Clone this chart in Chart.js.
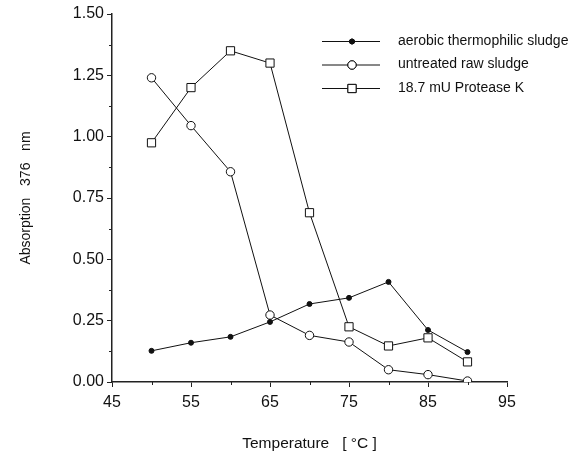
<!DOCTYPE html>
<html>
<head>
<meta charset="UTF-8">
<script src="https://cdn.jsdelivr.net/npm/chart.js"></script>
<style>
  body { margin: 0; background: #fff; }
  #wrap { width: 575px; height: 457px; }
</style>
</head>
<body>
<div id="wrap"><canvas id="chart" width="575" height="457"></canvas></div>
<script>
// temperatures (°C)
const temps = [50, 55, 60, 65, 70, 75, 80, 85, 90];

// absorption at 376 nm
const aerobic = [0.127, 0.16, 0.184, 0.245, 0.318, 0.343, 0.408, 0.212, 0.122];
const untreated = [1.24, 1.045, 0.857, 0.273, 0.19, 0.163, 0.05, 0.03, 0.004];
const protease = [0.975, 1.20, 1.35, 1.30, 0.69, 0.225, 0.147, 0.18, 0.082];

const seriesNames = ['aerobic thermophilic sludge', 'untreated raw sludge', '18.7 mU Protease K'];

const xTicks = [45, 55, 65, 75, 85, 95];
const yTicks = [0, 0.25, 0.5, 0.75, 1.0, 1.25, 1.5];

const FONT = "'Liberation Sans', Arial, sans-serif";

function pts(ys) {
    return temps.map((t, i) => ({ x: t, y: ys[i] }));
}

// short minor ticks between the labelled ones
const minorTicks = {
    id: 'minorTicks',
    afterDraw(chart) {
        const ctx = chart.ctx;
        const xs = chart.scales.x, ys = chart.scales.y;
        const area = chart.chartArea;
        ctx.save();
        ctx.strokeStyle = '#222';
        ctx.lineWidth = 1;
        ctx.beginPath();
        for (let v = 50; v < 95; v += 10) {
            const px = Math.round(xs.getPixelForValue(v)) + 0.5;
            ctx.moveTo(px, area.bottom);
            ctx.lineTo(px, area.bottom + 3);
        }
        for (let v = 0.125; v < 1.5; v += 0.25) {
            const py = Math.round(ys.getPixelForValue(v)) + 0.5;
            ctx.moveTo(area.left - 3, py);
            ctx.lineTo(area.left, py);
        }
        ctx.stroke();
        ctx.restore();
    }
};

// legend drawn inside the plot, upper right
const insideLegend = {
    id: 'insideLegend',
    afterDraw(chart) {
        const ctx = chart.ctx;
        ctx.save();
        chart.data.datasets.forEach((ds, i) => {
            const y = 41 + i * 23.5;
            ctx.strokeStyle = '#111';
            ctx.lineWidth = 1;
            ctx.beginPath();
            ctx.moveTo(322, y + 0.5);
            ctx.lineTo(380, y + 0.5);
            ctx.stroke();
            Chart.helpers.drawPoint(ctx, {
                pointStyle: ds.pointStyle,
                radius: ds.pointRadius,
                borderWidth: 1
            }, 352, y + 0.5);
            ctx.fillStyle = ds.pointBackgroundColor;
            ctx.strokeStyle = '#111';
            ctx.fill();
            ctx.stroke();
            ctx.fillStyle = '#111';
            ctx.font = '14px ' + FONT;
            ctx.textBaseline = 'middle';
            ctx.fillText(seriesNames[i], 398, y);
        });
        ctx.restore();
    }
};

const ctx = document.getElementById('chart').getContext('2d');
new Chart(ctx, {
    type: 'line',
    data: {
        datasets: [
            {
                label: seriesNames[0],
                data: pts(aerobic),
                borderColor: '#111',
                borderWidth: 1,
                pointStyle: 'circle',
                pointRadius: 2.5,
                pointBackgroundColor: '#111',
                pointBorderColor: '#111',
                pointBorderWidth: 1
            },
            {
                label: seriesNames[1],
                data: pts(untreated),
                borderColor: '#111',
                borderWidth: 1,
                pointStyle: 'circle',
                pointRadius: 4.2,
                pointBackgroundColor: '#fff',
                pointBorderColor: '#111',
                pointBorderWidth: 1
            },
            {
                label: seriesNames[2],
                data: pts(protease),
                borderColor: '#111',
                borderWidth: 1,
                pointStyle: 'rect',
                pointRadius: 5.8,
                pointBackgroundColor: '#fff',
                pointBorderColor: '#111',
                pointBorderWidth: 1
            }
        ]
    },
    options: {
        responsive: false,
        animation: false,
        layout: { padding: { top: 14, right: 68, bottom: 0, left: 0 } },
        plugins: {
            legend: { display: false },
            tooltip: { enabled: false }
        },
        scales: {
            x: {
                type: 'linear',
                min: 45,
                max: 95,
                afterFit(scale) { scale.height = 75; },
                afterBuildTicks(scale) { scale.ticks = xTicks.map(v => ({ value: v })); },
                grid: { drawOnChartArea: false, tickLength: 5, color: '#222' },
                border: { color: '#222', width: 1.5 },
                ticks: { color: '#111', font: { family: FONT, size: 16 }, padding: 6, maxRotation: 0 },
                title: {
                    display: true,
                    text: 'Temperature   [ °C ]',
                    color: '#111',
                    font: { family: FONT, size: 15.5 },
                    padding: { top: 0, bottom: 4 }
                }
            },
            y: {
                min: 0,
                max: 1.5,
                afterFit(scale) { scale.width = 112; },
                afterBuildTicks(scale) { scale.ticks = yTicks.map(v => ({ value: v })); },
                grid: { drawOnChartArea: false, tickLength: 5, color: '#222' },
                border: { color: '#222', width: 1.5 },
                ticks: {
                    color: '#111',
                    font: { family: FONT, size: 16 },
                    padding: 3,
                    callback: v => v.toFixed(2)
                },
                title: {
                    display: true,
                    text: 'Absorption   376   nm',
                    color: '#111',
                    font: { family: FONT, size: 14 },
                    padding: { top: 18, bottom: 0 }
                }
            }
        }
    },
    plugins: [minorTicks, insideLegend]
});
</script>
</body>
</html>
